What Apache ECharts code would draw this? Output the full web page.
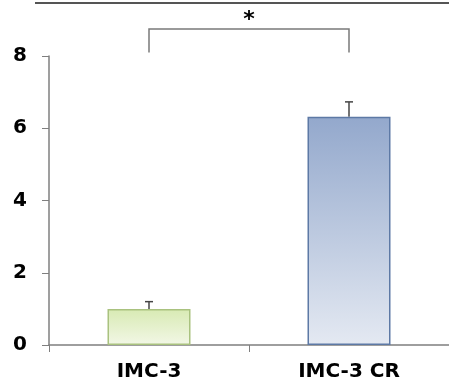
<!DOCTYPE html>
<html><head><meta charset="utf-8">
<script src="https://cdn.jsdelivr.net/npm/echarts@6/dist/echarts.min.js"></script>
<style>html,body{margin:0;padding:0;background:#fff}#c{width:449px;height:383px}</style>
</head><body><div id="c"></div>
<script>
const categories = ['IMC-3', 'IMC-3 CR'];
const values = [1.0, 6.32];
const errors = [0.2, 0.41];
const yTicks = [0, 2, 4, 6, 8];
const bracketLevel = 8.75, bracketFoot = 8.1, starLevel = 9.1, sigLabel = '*';

const chart = echarts.init(document.getElementById('c'), null, {renderer: 'canvas'});
const font = '"DejaVu Sans", Verdana, sans-serif';
chart.setOption({
  animation: false,
  grid: {left: 49, top: 56, width: 408, height: 289},
  xAxis: {
    type: 'category', data: categories,
    axisLine: {lineStyle: {color: '#7f7f7f', width: 1.5}},
    axisTick: {show: true, length: 7, lineStyle: {color: '#7f7f7f', width: 1}},
    axisLabel: {color: '#000', fontWeight: 'bold', fontSize: 20, fontFamily: font, margin: 17}
  },
  yAxis: {
    type: 'value', min: yTicks[0], max: yTicks[yTicks.length - 1], interval: 2,
    splitLine: {show: false},
    axisLine: {show: true, lineStyle: {color: '#7f7f7f', width: 1.5}},
    axisTick: {show: true, length: 7, lineStyle: {color: '#7f7f7f', width: 1}},
    axisLabel: {color: '#000', fontWeight: 'bold', fontSize: 20, fontFamily: font, margin: 22}
  },
  graphic: [{
    type: 'line', shape: {x1: 35, y1: 3, x2: 449, y2: 3},
    style: {stroke: '#555', lineWidth: 2}
  }],
  series: [{
    type: 'bar', barWidth: 83,
    data: values.map((v, i) => ({
      value: v,
      itemStyle: i === 0 ? {
        color: new echarts.graphic.LinearGradient(0, 0, 0, 1, [{offset: 0, color: '#d8eab3'}, {offset: 1, color: '#f2f7e6'}]),
        borderColor: '#a9c27f', borderWidth: 1.5
      } : {
        color: new echarts.graphic.LinearGradient(0, 0, 0, 1, [{offset: 0, color: '#93a8cc'}, {offset: 1, color: '#e4e9f2'}]),
        borderColor: '#5d79a5', borderWidth: 1.5
      }
    }))
  }, {
    type: 'custom', z: 1,
    data: values.map((v, i) => [i, v, errors[i]]),
    renderItem: function (params, api) {
      const base = api.coord([api.value(0), api.value(1)]);
      const top = api.coord([api.value(0), api.value(1) + api.value(2)]);
      return {type: 'group', children: [
        {type: 'line', shape: {x1: base[0], y1: base[1], x2: top[0], y2: top[1]}, style: {stroke: '#444', lineWidth: 1.5}},
        {type: 'line', shape: {x1: top[0] - 4, y1: top[1], x2: top[0] + 4, y2: top[1]}, style: {stroke: '#444', lineWidth: 1.5}}
      ]};
    }
  }, {
    type: 'custom', clip: false,
    data: [[0, 1]],
    renderItem: function (params, api) {
      const a = api.coord([categories[api.value(0)], bracketLevel]);
      const b = api.coord([categories[api.value(1)], bracketLevel]);
      const fa = api.coord([categories[api.value(0)], bracketFoot]);
      const s = api.coord([categories[0], starLevel]);
      return {type: 'group', children: [
        {type: 'polyline', shape: {points: [[a[0], fa[1]], [a[0], a[1]], [b[0], b[1]], [b[0], fa[1]]]}, style: {stroke: '#7a7a7a', lineWidth: 1.5, fill: null}},
        {type: 'text', style: {text: sigLabel, x: (a[0] + b[0]) / 2, y: s[1] + 4, align: 'center', verticalAlign: 'middle', fontSize: 22, fontWeight: 'bold', fontFamily: font, fill: '#000'}}
      ]};
    }
  }]
});
</script></body></html>
